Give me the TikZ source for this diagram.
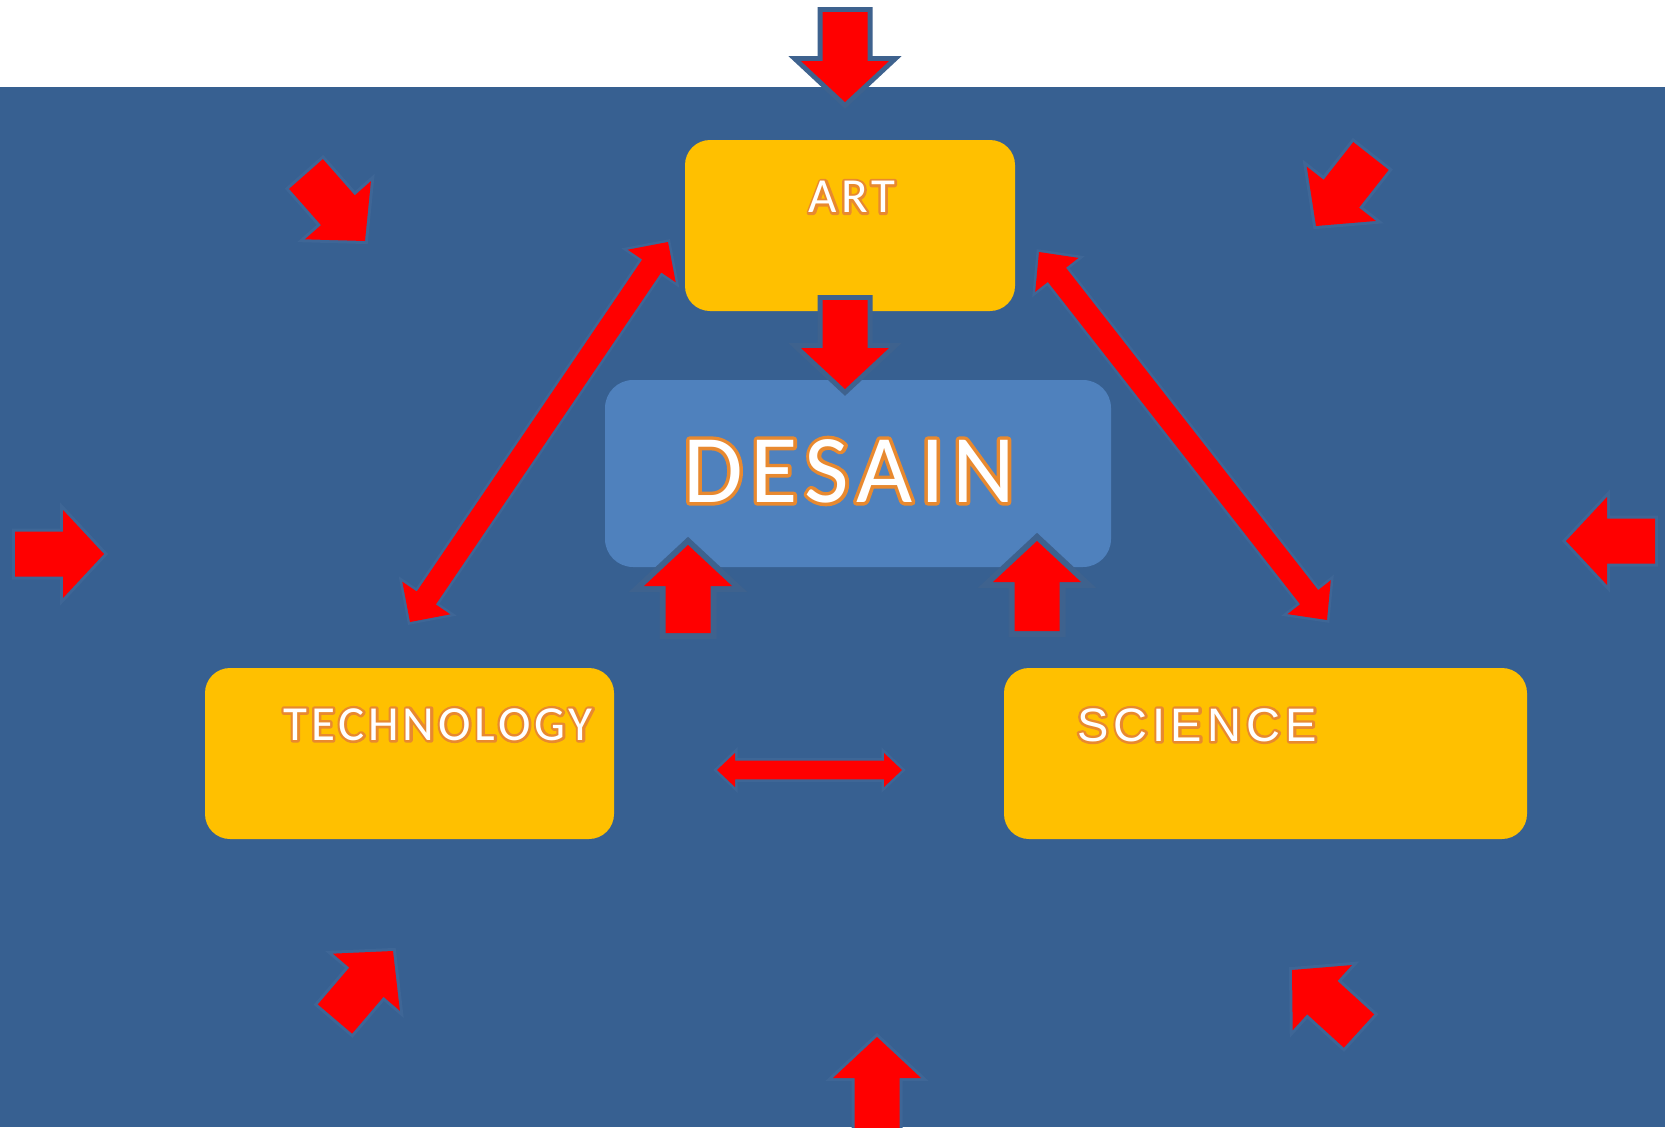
\documentclass[tikz,border=0pt]{standalone}
\usepackage{fontspec}
\setmainfont{Carlito}
\newfontfamily\artfont{Carlito}[LetterSpace=8]
\newfontfamily\techfont{Carlito}[LetterSpace=8]
\newfontfamily\desfont{Carlito}[LetterSpace=8]
\newfontfamily\scifont{Liberation Sans}[LetterSpace=11]
\usetikzlibrary{calc}
\definecolor{bandblue}{RGB}{55,96,145}
\definecolor{boxyellow}{RGB}{255,192,0}
\definecolor{desainblue}{RGB}{79,129,189}
\definecolor{arrred}{RGB}{255,0,0}
\definecolor{arroutline}{RGB}{62,98,142}
\definecolor{arrglow}{RGB}{62,102,150}
\definecolor{txtorange}{RGB}{232,137,47}
% block arrow: [style]{tail}{tip}{half shaft}{half head}{head length}
\newcommand\blkarrow[6][]{%
  \path (#2) coordinate (ba-A) (#3) coordinate (ba-B);
  \path ($(ba-B)!#6!(ba-A)$) coordinate (ba-C);
  \path[#1] ($(ba-A)!#4!90:(ba-B)$) -- ($(ba-C)!#4!-90:(ba-A)$) -- ($(ba-C)!#5!-90:(ba-A)$) -- (ba-B)
    -- ($(ba-C)!#5!90:(ba-A)$) -- ($(ba-C)!#4!90:(ba-A)$) -- ($(ba-A)!#4!-90:(ba-B)$) -- cycle;
}
% double block arrow: [style]{end A}{end B}{half shaft}{half head}{head length}
\newcommand\dblarrow[6][]{%
  \path (#2) coordinate (da-A) (#3) coordinate (da-B);
  \path ($(da-A)!#6!(da-B)$) coordinate (da-CA) ($(da-B)!#6!(da-A)$) coordinate (da-CB);
  \path[#1] (da-A) -- ($(da-CA)!#5!90:(da-B)$) -- ($(da-CA)!#4!90:(da-B)$) -- ($(da-CB)!#4!-90:(da-A)$)
    -- ($(da-CB)!#5!-90:(da-A)$) -- (da-B) -- ($(da-CB)!#5!90:(da-A)$) -- ($(da-CB)!#4!90:(da-A)$)
    -- ($(da-CA)!#4!-90:(da-B)$) -- ($(da-CA)!#5!-90:(da-B)$) -- cycle;
}
\newcommand\stdarrow[4]{% {outline colour}{outline width}{tail}{tip}
  \blkarrow[draw=#1,fill=#1,line width=#2,line join=miter]{#3}{#4}{22.5pt}{44pt}{41pt}
  \blkarrow[fill=arrred]{#3}{#4}{22.5pt}{44pt}{41pt}}
% white text with an orange outline: {stroke width}{text}
\newcommand\otext[2]{%
  \rlap{\color{txtorange}\special{pdf:literal direct 2 Tr #1 w 1 j}#2\special{pdf:literal direct 0 Tr}}#2}
\begin{document}
\begin{tikzpicture}[x=1pt,y=-1pt,
  ybox/.style={fill=boxyellow, rounded corners=25pt, inner sep=0pt},
  dbox/.style={fill=desainblue, rounded corners=28pt, inner sep=0pt},
  lbl/.style={inner sep=0pt, text=white}]
\useasboundingbox (0,0) rectangle (1665,1127);
\fill[white] (0,0) rectangle (1665,1127);
\fill[bandblue] (0,87) rectangle (1665,1127);

% coordinates of the arrows
\coordinate (topT) at (845,12);   \coordinate (topH) at (845,102);
\coordinate (artdT) at (845,300); \coordinate (artdH) at (845,389);
\coordinate (upLT) at (688,633);  \coordinate (upLH) at (688,545);
\coordinate (upRT) at (1037,631); \coordinate (upRH) at (1037,541);
\coordinate (cTLt) at (306,174);  \coordinate (cTLh) at (365,241);
\coordinate (cTRt) at (1371,156); \coordinate (cTRh) at (1316,226);
\coordinate (cLt) at (15,554);    \coordinate (cLh) at (104,554);
\coordinate (cRt) at (1655,541);  \coordinate (cRh) at (1566,541);
\coordinate (cBLt) at (335,1019); \coordinate (cBLh) at (393,951);
\coordinate (cBRt) at (1359,1031);\coordinate (cBRh) at (1292,970);
\coordinate (cBt) at (877,1128);  \coordinate (cBh) at (877,1037);
\coordinate (dLa) at (668,242);   \coordinate (dLb) at (410,622);
\coordinate (dRa) at (1039,252);  \coordinate (dRb) at (1327,620);
\coordinate (hA) at (717,770);    \coordinate (hB) at (902,770);

% top arrow
\stdarrow{arroutline}{10pt}{topT}{topH}

% boxes
\node[ybox, minimum width=330pt, minimum height=171pt] (art) at (850,225.5) {};
\node[ybox, minimum width=409pt, minimum height=171pt] (tech) at (409.5,753.5) {};
\node[ybox, minimum width=523pt, minimum height=171pt] (sci) at (1265.5,753.5) {};
\node[dbox, minimum width=506pt, minimum height=187pt] (desain) at (858,473.5) {};

% arrows into DESAIN
\stdarrow{arroutline}{10pt}{artdT}{artdH}
\stdarrow{arroutline}{12pt}{upLT}{upLH}
\stdarrow{arroutline}{12pt}{upRT}{upRH}

% double arrows
\dblarrow[draw=arrglow,fill=arrglow,line width=5pt]{dLa}{dLb}{11.5pt}{29pt}{29pt}
\dblarrow[fill=arrred]{dLa}{dLb}{11.5pt}{29pt}{29pt}
\dblarrow[draw=arrglow,fill=arrglow,line width=5pt]{dRa}{dRb}{11.5pt}{27.5pt}{29pt}
\dblarrow[fill=arrred]{dRa}{dRb}{11.5pt}{27.5pt}{29pt}
\dblarrow[draw=arrglow,fill=arrglow,line width=5pt]{hA}{hB}{9.3pt}{17pt}{18pt}
\dblarrow[fill=arrred]{hA}{hB}{9.3pt}{17pt}{18pt}

% surrounding arrows
\stdarrow{arrglow}{6pt}{cTLt}{cTLh}
\stdarrow{arrglow}{6pt}{cTRt}{cTRh}
\stdarrow{arrglow}{6pt}{cLt}{cLh}
\stdarrow{arrglow}{6pt}{cRt}{cRh}
\stdarrow{arrglow}{6pt}{cBLt}{cBLh}
\stdarrow{arrglow}{6pt}{cBRt}{cBRh}
\stdarrow{arrglow}{6pt}{cBt}{cBh}

% labels
\node[lbl, font=\artfont\fontsize{49}{49}\selectfont] (artlbl) at (852,197) {\otext{5}{ART}};
\node[lbl, font=\techfont\fontsize{49}{49}\selectfont] (techlbl) at (438,724.5) {\otext{5}{TECHNOLOGY}};
\node[lbl, font=\scifont\fontsize{47}{47}\selectfont] (scilbl) at (1197,725) {\otext{5}{SCIENCE}};
\node[lbl, font=\desfont\fontsize{97}{97}\selectfont] (deslbl) at (849,471) {\otext{7}{DESAIN}};
\end{tikzpicture}
\end{document}
